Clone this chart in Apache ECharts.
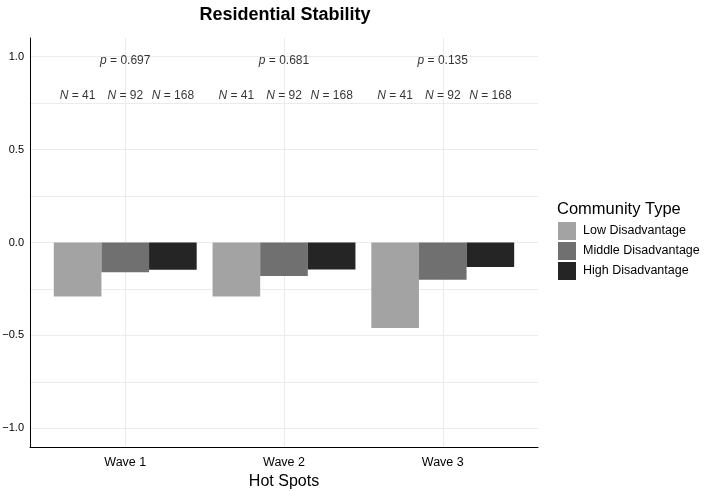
<!DOCTYPE html>
<html lang="en">
  <head>
    <meta charset="UTF-8" />
    <title>Residential Stability</title>
    <script src="https://cdn.jsdelivr.net/npm/echarts@6.0.0/dist/echarts.min.js"></script>
  </head>
  <body style="margin: 0">
    <div id="main" style="width: 705px; height: 491px"></div>
    <script type="text/javascript">
      const waves = ["Wave 1", "Wave 2", "Wave 3"];
      const groups = ["Low Disadvantage", "Middle Disadvantage", "High Disadvantage"];
      const lowValues = [-0.29, -0.29, -0.46];
      const middleValues = [-0.16, -0.18, -0.2];
      const highValues = [-0.147, -0.145, -0.132];
      const pValues = ["0.697", "0.681", "0.135"];
      const nValues = [41, 92, 168];
      const yLabelTicks = [-1, -0.5, 0, 0.5, 1];
      const yGridTicks = [-1, -0.75, -0.5, -0.25, 0, 0.25, 0.5, 0.75, 1];
      const colors = ["#a3a3a3", "#707070", "#252525"];

      const font = "Liberation Sans, Arial, sans-serif";
      const barShare = 0.3; // each bar is 0.3 of a wave's slot (90% / 3)

      function barData(values) {
        return values.map((v, i) => [i + 1, v]);
      }

      let pData = pValues.map((p, i) => [i + 1, 0.98, p]);
      let nData = [];
      waves.forEach((w, i) => {
        nValues.forEach((n, k) => {
          nData.push([i + 1 + (k - 1) * barShare, 0.79, n]);
        });
      });

      const labelRich = {
        i: { fontStyle: "italic", fontSize: 12, fontFamily: font, color: "#000" },
      };

      let options = {
        animation: false,
        textStyle: { fontFamily: font },
        title: [
          {
            text: "Residential Stability",
            left: 285,
            top: 6,
            padding: 0,
            textAlign: "center",
            textStyle: { fontSize: 18, fontWeight: "bold", color: "#000", fontFamily: font },
          },
          {
            text: "Community Type",
            left: 557,
            top: 201,
            padding: 0,
            textStyle: { fontSize: 16.5, fontWeight: "normal", color: "#000", fontFamily: font },
          },
        ],
        legend: {
          data: groups,
          orient: "vertical",
          left: 558,
          top: 222,
          padding: 0,
          itemWidth: 18,
          itemHeight: 18,
          itemGap: 2,
          icon: "rect",
          textStyle: { fontSize: 12.5, color: "#000", fontFamily: font, padding: [0, 0, 0, 2] },
        },
        grid: { left: 30, right: 167, top: 38, bottom: 44, outerBoundsMode: "none", containLabel: false },
        xAxis: {
          type: "value",
          min: 0.4,
          max: 3.6,
          name: "Hot Spots",
          nameLocation: "middle",
          nameGap: 27,
          nameTextStyle: { fontSize: 16, color: "#000", fontFamily: font },
          axisLine: { show: true, onZero: false, lineStyle: { color: "#000", width: 1 } },
          axisTick: { show: false, customValues: [1, 2, 3] },
          axisLabel: {
            customValues: [1, 2, 3],
            formatter: (v) => waves[Math.round(v) - 1],
            fontSize: 12.5,
            color: "#000",
            margin: 9,
          },
          splitLine: { show: true, lineStyle: { color: "#ebebeb", width: 1 } },
        },
        yAxis: {
          type: "value",
          min: -1.1,
          max: 1.1,
          axisLine: { show: true, onZero: false, lineStyle: { color: "#000", width: 1 } },
          axisTick: { show: false, customValues: yGridTicks },
          axisLabel: {
            customValues: yLabelTicks,
            formatter: (v) => v.toFixed(1).replace("-", "\u2212"),
            fontSize: 11,
            color: "#000",
            margin: 6,
          },
          splitLine: { show: true, lineStyle: { color: "#ebebeb", width: 1 } },
        },
        series: [
          {
            name: groups[0],
            type: "bar",
            data: barData(lowValues),
            barGap: "0%",
            barCategoryGap: "10%",
            itemStyle: { color: colors[0] },
          },
          {
            name: groups[1],
            type: "bar",
            data: barData(middleValues),
            barGap: "0%",
            barCategoryGap: "10%",
            itemStyle: { color: colors[1] },
          },
          {
            name: groups[2],
            type: "bar",
            data: barData(highValues),
            barGap: "0%",
            barCategoryGap: "10%",
            itemStyle: { color: colors[2] },
          },
          {
            name: "p",
            type: "scatter",
            data: pData,
            symbolSize: 0,
            silent: true,
            label: {
              show: true,
              position: "inside",
              formatter: (p) => "{i|p} = " + p.data[2],
              fontSize: 12,
              color: "#000",
              rich: labelRich,
            },
          },
          {
            name: "N",
            type: "scatter",
            data: nData,
            symbolSize: 0,
            silent: true,
            label: {
              show: true,
              position: "inside",
              formatter: (p) => "{i|N} = " + p.data[2],
              fontSize: 12,
              color: "#000",
              rich: labelRich,
            },
          },
        ],
      };

      let myChart = echarts.init(document.getElementById("main"));
      myChart.setOption(options);
    </script>
  </body>
</html>
